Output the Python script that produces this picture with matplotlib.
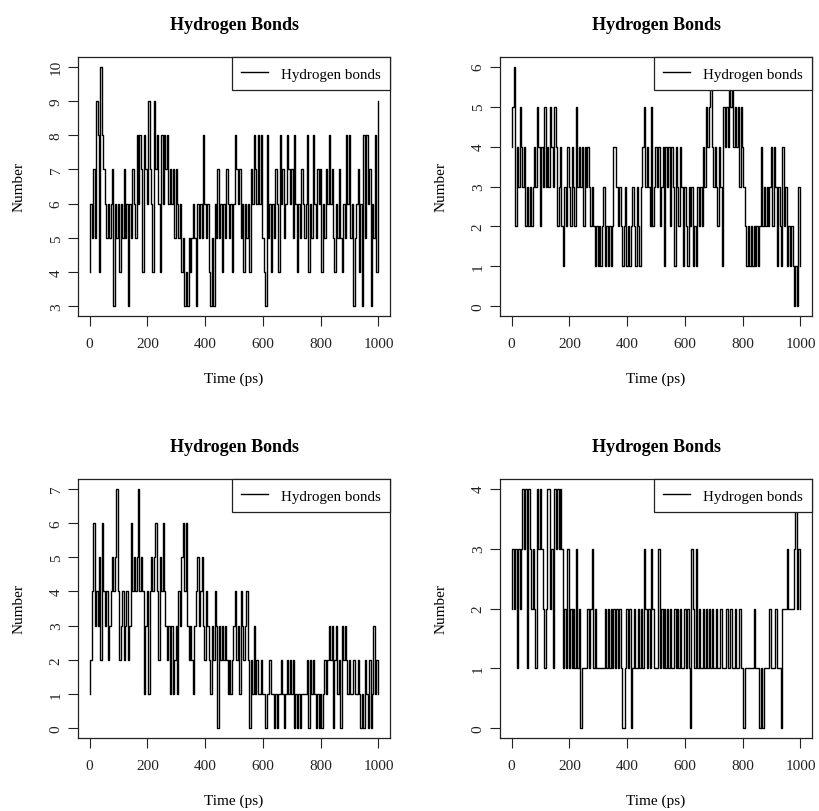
import matplotlib
matplotlib.use("Agg")
import matplotlib.pyplot as plt

plt.rcParams['font.family'] = ['Liberation Serif', 'DejaVu Serif']

# Time axis (ps), sampled every 5 ps
time_ps = list(range(0, 1001, 5))

# Panel A (top-left)
hbonds_a = [
    4, 6, 5, 7, 5, 9, 8, 4, 10, 8, 7, 6, 5, 6, 5, 6, 7, 3, 6, 5,
    6, 4, 6, 5, 7, 5, 6, 3, 6, 5, 7, 6, 5, 8, 6, 8, 7, 4, 8, 7,
    6, 9, 7, 6, 4, 9, 7, 8, 6, 4, 8, 6, 8, 7, 8, 6, 7, 6, 7, 5,
    7, 6, 5, 6, 4, 5, 3, 4, 3, 5, 4, 5, 6, 5, 3, 6, 5, 6, 5, 8,
    6, 5, 6, 4, 3, 5, 3, 6, 5, 7, 5, 6, 4, 6, 5, 7, 6, 5, 6, 4,
    6, 8, 7, 6, 7, 5, 6, 4, 6, 5, 6, 4, 7, 6, 8, 7, 6, 8, 6, 8,
    5, 4, 3, 8, 5, 6, 4, 6, 5, 7, 6, 4, 8, 6, 7, 5, 6, 8, 7, 6,
    7, 5, 8, 6, 4, 6, 5, 7, 6, 5, 6, 8, 4, 6, 5, 8, 6, 5, 7, 6,
    7, 4, 6, 5, 7, 6, 8, 6, 7, 5, 4, 6, 5, 7, 5, 4, 6, 5, 8, 6,
    8, 5, 6, 3, 5, 6, 7, 4, 6, 3, 8, 5, 8, 6, 7, 3, 6, 5, 8, 4,
    9,
]

# Panel B (top-right)
hbonds_b = [
    4, 5, 6, 2, 4, 3, 5, 4, 3, 4, 2, 3, 2, 3, 2, 3, 4, 3, 5, 4,
    2, 4, 3, 5, 3, 4, 3, 5, 4, 3, 5, 4, 2, 3, 4, 2, 1, 3, 2, 4,
    3, 2, 4, 3, 2, 5, 3, 4, 3, 4, 2, 4, 3, 4, 3, 2, 3, 2, 1, 2,
    1, 2, 1, 2, 3, 1, 2, 1, 2, 1, 2, 4, 4, 3, 2, 3, 2, 1, 2, 3,
    1, 2, 1, 2, 3, 2, 1, 3, 2, 1, 3, 4, 5, 3, 4, 3, 2, 5, 2, 3,
    4, 3, 4, 2, 3, 4, 1, 4, 3, 4, 2, 4, 3, 1, 4, 3, 2, 4, 3, 1,
    3, 2, 1, 3, 2, 3, 1, 2, 1, 3, 2, 3, 2, 4, 3, 5, 4, 5, 6, 4,
    3, 4, 3, 2, 4, 3, 1, 5, 4, 5, 4, 6, 5, 6, 4, 5, 4, 5, 3, 5,
    4, 3, 2, 1, 2, 1, 2, 1, 2, 1, 2, 1, 2, 4, 2, 3, 2, 3, 2, 3,
    4, 2, 4, 3, 1, 3, 2, 1, 4, 2, 3, 1, 2, 1, 2, 1, 0, 1, 0, 3,
    1,
]

# Panel C (bottom-left)
hbonds_c = [
    1, 2, 4, 6, 3, 4, 3, 5, 2, 6, 4, 3, 4, 2, 3, 4, 5, 4, 5, 7,
    4, 2, 3, 4, 2, 3, 4, 2, 3, 6, 4, 5, 4, 5, 7, 4, 5, 4, 1, 3,
    4, 1, 4, 5, 4, 5, 6, 4, 2, 5, 4, 6, 4, 3, 2, 3, 1, 3, 1, 2,
    3, 1, 4, 3, 5, 6, 4, 6, 3, 2, 3, 2, 1, 3, 4, 5, 3, 4, 5, 3,
    2, 4, 3, 2, 1, 3, 2, 4, 3, 0, 3, 2, 3, 2, 3, 2, 1, 2, 1, 2,
    3, 4, 2, 3, 1, 4, 3, 2, 3, 4, 2, 0, 2, 1, 3, 1, 2, 1, 1, 2,
    1, 1, 0, 1, 1, 2, 1, 1, 0, 1, 0, 1, 1, 2, 1, 0, 1, 2, 1, 2,
    1, 2, 0, 1, 0, 1, 0, 1, 1, 1, 1, 2, 0, 2, 1, 2, 1, 0, 1, 0,
    1, 0, 1, 2, 1, 2, 3, 2, 3, 0, 2, 3, 1, 2, 0, 3, 2, 3, 2, 1,
    2, 1, 1, 2, 1, 1, 2, 1, 0, 1, 0, 2, 1, 0, 2, 0, 1, 3, 1, 2,
    1,
]

# Panel D (bottom-right)
hbonds_d = [
    2, 3, 2, 3, 1, 3, 2, 3, 4, 3, 4, 1, 4, 3, 2, 3, 2, 1, 4, 3,
    4, 3, 2, 1, 2, 4, 4, 2, 3, 1, 4, 3, 4, 3, 4, 3, 1, 2, 1, 3,
    1, 2, 1, 2, 1, 3, 1, 2, 0, 1, 1, 1, 1, 2, 1, 2, 3, 1, 2, 1,
    1, 1, 1, 1, 1, 2, 1, 2, 1, 2, 1, 2, 1, 2, 1, 2, 1, 0, 0, 1,
    2, 1, 2, 0, 1, 2, 1, 1, 2, 1, 2, 1, 3, 2, 1, 2, 1, 3, 2, 1,
    1, 1, 3, 1, 2, 1, 2, 1, 2, 1, 2, 1, 1, 2, 1, 2, 1, 2, 1, 1,
    2, 1, 2, 1, 0, 3, 2, 1, 3, 1, 2, 1, 1, 2, 1, 2, 1, 2, 1, 2,
    1, 1, 2, 1, 1, 2, 1, 1, 1, 2, 1, 1, 2, 1, 1, 2, 1, 1, 2, 1,
    1, 0, 1, 1, 1, 1, 1, 1, 2, 1, 1, 1, 0, 1, 0, 1, 1, 1, 1, 2,
    1, 1, 1, 2, 1, 1, 1, 0, 2, 2, 2, 3, 2, 2, 2, 2, 3, 4, 2, 3,
    2,
]

series = [hbonds_a, hbonds_b, hbonds_c, hbonds_d]
y_ticks = [list(range(3, 11)), list(range(0, 7)), list(range(0, 8)), list(range(0, 5))]
x_ticks = [0, 200, 400, 600, 800, 1000]
title = "Hydrogen Bonds"
x_label = "Time (ps)"
y_label = "Number"
legend_label = "Hydrogen bonds"

W, H = 819, 812
fig = plt.figure(figsize=(W / 100, H / 100), dpi=100)
boxes = [(78, 58), (500, 58), (78, 480), (500, 480)]
aw, ah = 312, 259

for (bx, by), y, yt in zip(boxes, series, y_ticks):
    ax = fig.add_axes([bx / W, 1 - (by + ah) / H, aw / W, ah / H])
    ax.plot(time_ps, y, color='black', lw=1.0, drawstyle='steps-mid',
            label=legend_label)
    ax.set_xlim(-40, 1040)
    lo, hi = yt[0], yt[-1]
    r = hi - lo
    ax.set_ylim(lo - 0.04 * r, hi + 0.04 * r)
    ax.set_xticks(x_ticks)
    ax.set_yticks(yt)
    ax.tick_params(direction='out', length=7, width=0.8, labelsize=11,
                   colors='#222222')
    ax.tick_params(axis='x', pad=8)
    ax.tick_params(axis='y', labelrotation=90, pad=4)
    for lab in ax.get_yticklabels():
        lab.set_verticalalignment('center')
    for s in ax.spines.values():
        s.set_linewidth(0.9)
        s.set_color('#222222')
    ax.set_title(title, fontsize=13, fontweight='bold', pad=20)
    ax.set_xlabel(x_label, fontsize=11, labelpad=15.5)
    ax.set_ylabel(y_label, fontsize=11, labelpad=17.3)
    leg = ax.legend(loc='upper right', borderaxespad=0, fancybox=False,
                    edgecolor='#222222', framealpha=1, fontsize=10.8,
                    handlelength=1.8, handletextpad=0.87, borderpad=0.6,
                    handleheight=1.0)
    leg.get_frame().set_linewidth(0.9)
    leg.get_lines()[0].set_linewidth(1.0)

fig.savefig('out.png', dpi=100)
